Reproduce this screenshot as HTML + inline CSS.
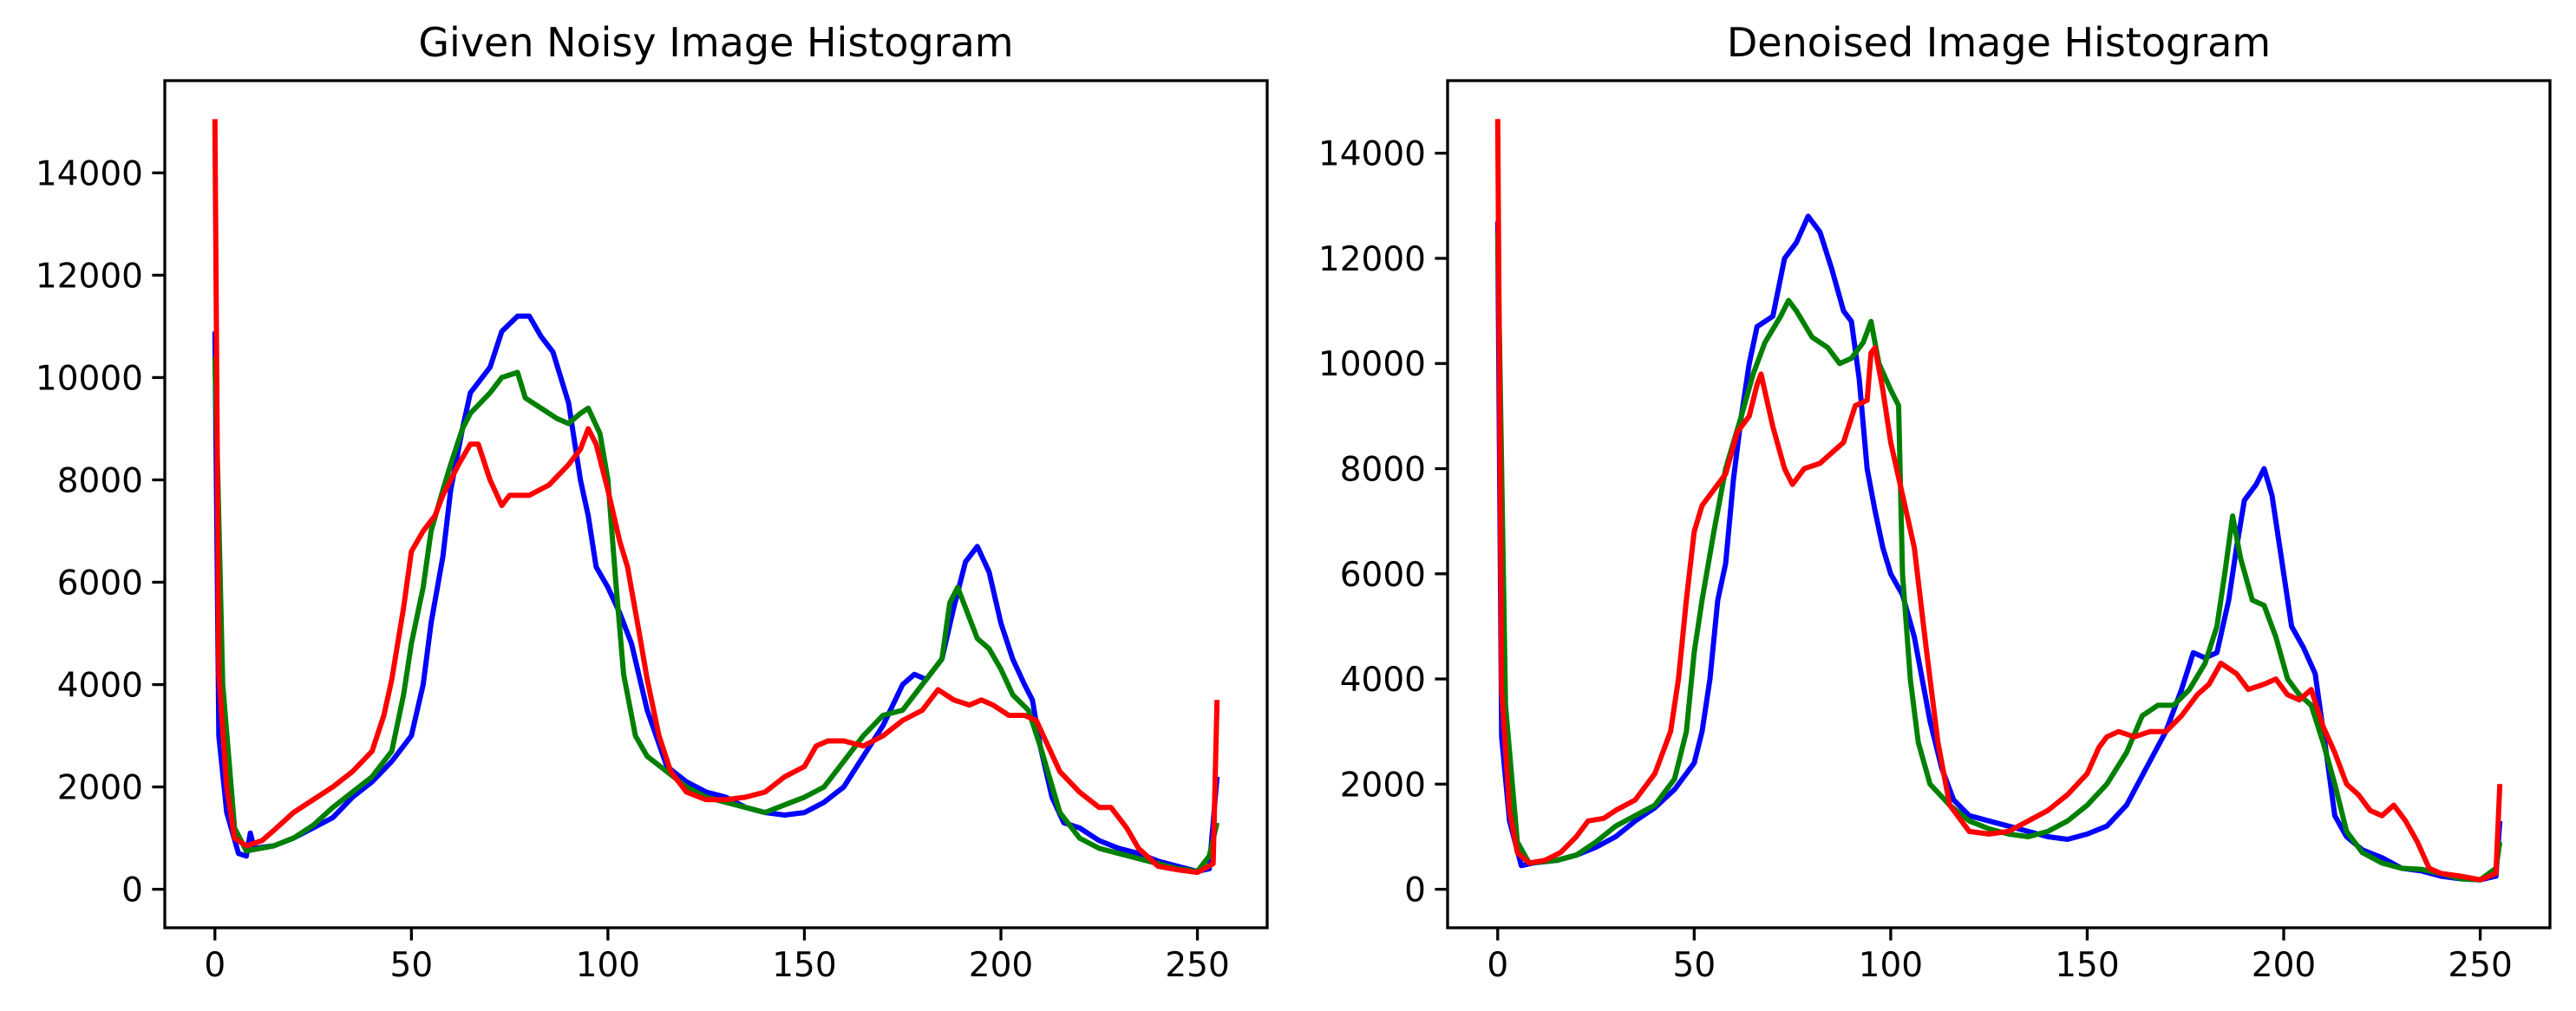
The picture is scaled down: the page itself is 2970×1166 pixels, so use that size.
<!DOCTYPE html>
<html><head><meta charset="utf-8"><style>
html,body{margin:0;padding:0;background:#fff;}
svg{display:block;font-family:"DejaVu Sans","Liberation Sans",sans-serif;}
</style></head><body>
<svg id="fig" width="2970" height="1166" viewBox="0 0 2970 1166" xmlns="http://www.w3.org/2000/svg"></svg>
<script>
// ---- data: left plot (noisy) ----
const noisyBlueX=[0,1,3,6,8,9,10,15,20,25,30,35,40,45,50,53,55,58,60,63,65,70,73,77,80,83,86,90,93,95,97,100,103,106,110,115,120,125,130,135,140,145,150,155,160,165,170,175,178,181,185,188,191,194,197,200,203,206,208,210,213,216,220,225,230,235,240,245,250,253,255];
const noisyBlueY=[10900,3000,1500,700,650,1100,800,850,1000,1200,1400,1800,2100,2500,3000,4000,5200,6500,7800,9000,9700,10200,10900,11200,11200,10800,10500,9500,8000,7300,6300,5900,5400,4800,3500,2400,2100,1900,1800,1600,1500,1450,1500,1700,2000,2600,3200,4000,4200,4100,4500,5500,6400,6700,6200,5200,4500,4000,3700,2800,1800,1300,1200,950,800,700,550,450,350,400,2200];
const noisyGreenX=[0,2,5,8,15,20,25,30,35,40,45,48,50,53,55,58,60,63,65,70,73,77,79,83,87,90,93,95,98,100,102,104,107,110,115,120,125,130,135,140,145,150,155,160,165,170,175,180,185,187,189,191,194,197,200,203,207,210,215,220,225,230,235,240,245,250,253,255];
const noisyGreenY=[10400,4000,1200,750,850,1000,1250,1600,1900,2200,2700,3800,4800,5900,7000,7800,8300,9000,9300,9700,10000,10100,9600,9400,9200,9100,9300,9400,8900,8000,6000,4200,3000,2600,2300,2000,1800,1700,1600,1500,1650,1800,2000,2500,3000,3400,3500,4000,4500,5600,5900,5500,4900,4700,4300,3800,3500,2800,1500,1000,800,700,600,500,400,350,650,1300];
const noisyRedX=[0,1,3,5,8,12,15,20,25,30,35,40,43,45,48,50,53,56,58,62,65,67,70,73,75,80,85,90,93,95,97,100,103,105,108,110,113,116,120,125,130,135,140,145,150,153,156,160,165,170,175,180,184,188,192,195,198,202,206,209,212,215,220,225,228,232,235,240,245,250,254,255];
const noisyRedY=[15050,4200,2000,1000,850,950,1150,1500,1750,2000,2300,2700,3400,4100,5500,6600,7000,7300,7700,8300,8700,8700,8000,7500,7700,7700,7900,8300,8600,9000,8700,7800,6800,6300,5000,4100,3000,2300,1900,1750,1750,1800,1900,2200,2400,2800,2900,2900,2800,3000,3300,3500,3900,3700,3600,3700,3600,3400,3400,3300,2800,2300,1900,1600,1600,1200,800,450,380,330,500,3700];
// ---- data: right plot (denoised) ----
const denBlueX=[0,1,3,6,9,15,20,25,30,35,40,45,50,52,54,56,58,60,62,64,66,70,73,76,79,82,85,88,90,92,94,96,98,100,103,106,110,113,116,120,125,130,135,140,145,150,155,160,165,170,174,177,180,183,186,188,190,193,195,197,199,202,205,208,211,213,216,220,225,230,235,240,245,250,254,255];
const denBlueY=[12700,2900,1300,450,500,550,650,800,1000,1300,1550,1900,2400,3000,4000,5500,6200,7800,9000,10000,10700,10900,12000,12300,12800,12500,11800,11000,10800,9700,8000,7200,6500,6000,5600,4800,3200,2300,1700,1400,1300,1200,1100,1000,950,1050,1200,1600,2300,3000,3800,4500,4400,4500,5500,6500,7400,7700,8000,7500,6500,5000,4600,4100,2500,1400,1000,750,600,400,350,250,200,180,250,1300];
const denGreenX=[0,2,5,8,15,20,25,30,35,40,45,48,50,52,55,58,62,65,68,72,74,76,80,84,87,90,93,95,97,100,102,103,105,107,110,115,120,125,130,135,140,145,150,155,160,164,168,172,176,180,183,185,187,189,192,195,198,201,204,207,210,213,216,220,225,230,235,240,245,250,254,255];
const denGreenY=[12500,3500,900,500,550,650,900,1200,1400,1600,2100,3000,4500,5500,6800,8000,9000,9800,10400,10900,11200,11000,10500,10300,10000,10100,10400,10800,10000,9500,9200,6000,4000,2800,2000,1600,1300,1150,1050,1000,1100,1300,1600,2000,2600,3300,3500,3500,3800,4300,5000,6000,7100,6300,5500,5400,4800,4000,3700,3500,2800,2000,1100,700,500,400,380,300,200,180,400,900];
const denRedX=[0,1,3,5,8,12,16,20,23,27,30,35,40,44,46,48,50,52,55,58,61,64,66,67,70,73,75,78,82,85,88,91,94,95,96,98,100,103,106,109,112,115,120,125,130,135,140,145,150,153,155,158,162,166,170,174,178,181,184,188,191,195,198,201,204,207,210,213,216,219,222,225,228,231,234,237,240,245,250,254,255];
const denRedY=[14650,3800,1500,700,500,550,700,1000,1300,1350,1500,1700,2200,3000,4000,5500,6800,7300,7600,7900,8700,9000,9600,9800,8800,8000,7700,8000,8100,8300,8500,9200,9300,10200,10300,9500,8500,7500,6500,4600,2800,1600,1100,1050,1100,1300,1500,1800,2200,2700,2900,3000,2900,3000,3000,3300,3700,3900,4300,4100,3800,3900,4000,3700,3600,3800,3100,2600,2000,1800,1500,1400,1600,1300,900,400,300,250,180,300,2000];
const xTicks=[0,50,100,150,200,250];
const leftYTicks=[0,2000,4000,6000,8000,10000,12000,14000];
const rightYTicks=[0,2000,4000,6000,8000,10000,12000,14000];

const NS="http://www.w3.org/2000/svg";
const svg=document.getElementById('fig');
function mk(tag,attrs,parent){const e=document.createElementNS(NS,tag);for(const k in attrs)e.setAttribute(k,attrs[k]);(parent||svg).appendChild(e);return e;}

function panel(key,box,title,yMin,yMax,yTicks,series){
  const g=mk('g',{});
  
  
  const xMin=-12.75,xMax=267.75;
  const sx=v=>box.x0+(v-xMin)/(xMax-xMin)*(box.x1-box.x0);
  const sy=v=>box.y1-(v-yMin)/(yMax-yMin)*(box.y1-box.y0);
  const clip=mk('clipPath',{id:'clip-'+key},g);
  mk('rect',{x:box.x0,y:box.y0,width:box.x1-box.x0,height:box.y1-box.y0},clip);
  series.forEach(s=>{
    const pts=s.x.map((xv,i)=>sx(xv).toFixed(1)+','+sy(s.y[i]).toFixed(1)).join(' ');
    const pl=mk('polyline',{points:pts,fill:'none',stroke:s.c,'stroke-width':6,'stroke-linejoin':'round','clip-path':'url(#clip-'+key+')'},g);
    
    
  });
  const fr=mk('rect',{x:box.x0,y:box.y0,width:box.x1-box.x0,height:box.y1-box.y0,fill:'none',stroke:'#000','stroke-width':3.3},g);
  
  
  xTicks.forEach(t=>{
    const x=sx(t);
    mk('line',{x1:x,x2:x,y1:box.y1,y2:box.y1+14.6,stroke:'#000','stroke-width':3.3},g);
    const tx=mk('text',{x:x,y:box.y1+56,'font-size':39,'text-anchor':'middle',fill:'#000'},g);
    tx.textContent=t;
    
    
  });
  yTicks.forEach(t=>{
    const y=sy(t);
    mk('line',{x1:box.x0-14.6,x2:box.x0,y1:y,y2:y,stroke:'#000','stroke-width':3.3},g);
    const ty=mk('text',{x:box.x0-25,y:y+14,'font-size':39,'text-anchor':'end',fill:'#000'},g);
    ty.textContent=t;
    
    
  });
  const tt=mk('text',{x:(box.x0+box.x1)/2,y:box.y0-28,'font-size':46,'text-anchor':'middle',fill:'#000'},g);
  tt.textContent=title;
  
  
}
panel('noisy',{x0:190,x1:1461,y0:93,y1:1070},'Given Noisy Image Histogram',-752,15802,leftYTicks,
 [{n:'blue',c:'#0000ff',x:noisyBlueX,y:noisyBlueY},{n:'green',c:'#008000',x:noisyGreenX,y:noisyGreenY},{n:'red',c:'#ff0000',x:noisyRedX,y:noisyRedY}]);
panel('denoised',{x0:1669,x1:2940,y0:93,y1:1070},'Denoised Image Histogram',-732,15380,rightYTicks,
 [{n:'blue',c:'#0000ff',x:denBlueX,y:denBlueY},{n:'green',c:'#008000',x:denGreenX,y:denGreenY},{n:'red',c:'#ff0000',x:denRedX,y:denRedY}]);
</script>
</body></html>
